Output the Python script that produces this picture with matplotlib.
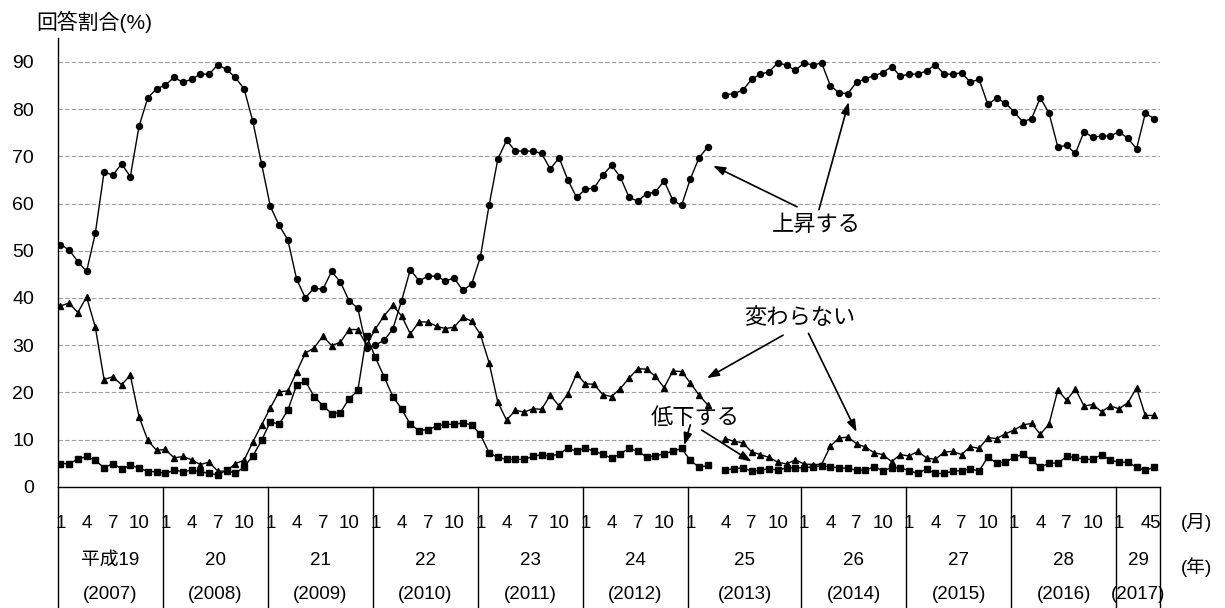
import numpy as np
import matplotlib
matplotlib.use("Agg")
import matplotlib.pyplot as plt
import matplotlib.transforms as mtransforms

plt.rcParams['font.family'] = ['Liberation Sans', 'Noto Sans CJK JP']

# 上昇する / 変わらない / 低下する  (%)
# old survey: 2007/1 - 2013/3, new survey: 2013/4 - 2017/5
up_old = [51.3, 50.2, 47.7, 45.6, 53.7, 66.7, 66.0, 68.4, 65.7, 76.4, 82.4, 84.3,
          85.1, 86.7, 85.7, 86.3, 87.4, 87.4, 89.4, 88.4, 86.7, 84.3, 77.4, 68.4,
          59.4, 55.4, 52.3, 44.0, 40.0, 42.1, 41.8, 45.6, 43.4, 39.4, 37.8, 29.4,
          30.0, 31.0, 33.4, 39.4, 46.0, 43.6, 44.6, 44.6, 43.6, 44.2, 41.6, 42.9,
          48.6, 59.6, 69.4, 73.4, 71.1, 71.1, 71.1, 70.6, 67.3, 69.7, 65.0, 61.3,
          63.0, 63.3, 66.0, 68.1, 65.6, 61.3, 60.5, 62.1, 62.4, 64.8, 60.7, 59.6,
          65.2, 69.7, 72.0]
up_new = [83.0, 83.3, 84.0, 86.3, 87.4, 87.9, 89.8, 89.3, 88.2,
          89.8, 89.3, 89.8, 85.0, 83.4, 83.3, 85.7, 86.4, 87.1, 87.7, 89.0, 87.0,
          87.4, 87.4, 88.1, 89.4, 87.4, 87.4, 87.7, 85.7, 86.3, 81.0, 82.3, 81.3,
          79.4, 77.3, 78.0, 82.4, 79.1, 72.0, 72.3, 70.6, 75.2, 74.0, 74.3, 74.3,
          75.2, 73.8, 71.6, 79.1, 78.0]

same_old = [38.3, 38.9, 36.9, 40.2, 33.8, 22.7, 23.3, 21.6, 23.6, 14.8, 9.8, 7.7,
            7.9, 6.1, 6.4, 5.7, 4.7, 5.2, 3.3, 3.3, 4.9, 5.6, 9.5, 13.1,
            16.7, 20.1, 20.3, 24.3, 28.3, 29.4, 31.9, 29.9, 30.6, 33.3, 33.3, 30.0,
            33.4, 36.2, 38.4, 36.2, 32.4, 34.9, 34.9, 34.0, 33.5, 33.8, 35.9, 35.1,
            32.3, 26.3, 17.9, 14.1, 16.2, 15.8, 16.5, 16.4, 19.4, 17.1, 19.7, 23.9,
            21.8, 21.7, 19.5, 19.1, 20.8, 23.0, 25.0, 24.9, 23.4, 21.0, 24.5, 24.4,
            22.0, 19.4, 17.3]
same_new = [10.2, 9.6, 9.3, 7.4, 6.8, 6.2, 5.2, 4.8, 5.7,
            4.8, 4.7, 4.7, 8.6, 10.3, 10.5, 9.1, 8.4, 7.2, 6.8, 5.3, 6.8,
            6.5, 7.5, 6.1, 5.8, 7.3, 7.5, 6.8, 8.5, 8.1, 10.4, 10.2, 11.2,
            12.0, 13.1, 13.4, 11.1, 13.3, 20.5, 18.3, 20.7, 17.1, 17.4, 15.9, 17.1,
            16.5, 17.8, 20.9, 15.1, 15.1]

down_old = [4.9, 4.9, 5.8, 6.4, 5.6, 4.0, 4.9, 3.8, 4.5, 4.0, 3.2, 3.2,
            2.8, 3.5, 3.2, 3.5, 3.2, 2.8, 2.5, 3.5, 2.8, 4.2, 6.5, 9.8,
            13.8, 13.2, 16.2, 21.5, 22.4, 19.1, 17.2, 15.5, 15.7, 18.6, 20.4, 32.0,
            27.4, 23.3, 19.1, 16.5, 13.2, 11.9, 12.1, 12.8, 13.2, 13.2, 13.5, 13.1,
            11.1, 7.2, 6.2, 5.8, 5.8, 5.8, 6.4, 6.8, 6.5, 6.9, 8.2, 7.5,
            8.2, 7.5, 6.9, 6.0, 7.0, 8.1, 7.5, 6.3, 6.5, 7.0, 7.5, 8.1,
            5.6, 4.1, 4.5]
down_new = [3.5, 3.8, 4.0, 3.3, 3.5, 3.8, 3.5, 4.0, 4.0,
            4.0, 4.2, 4.4, 4.2, 4.0, 3.9, 3.5, 3.5, 4.2, 3.4, 4.0, 4.0,
            3.4, 2.8, 3.8, 2.8, 2.8, 3.3, 3.4, 3.8, 3.3, 6.3, 5.0, 5.2,
            6.2, 6.9, 5.6, 4.1, 5.0, 5.0, 6.4, 6.2, 5.8, 5.8, 6.8, 5.6,
            5.2, 5.2, 4.1, 3.5, 4.1]

# x axis "table": one slot per month, 2013 has an extra empty slot between the surveys
years_jp = ['平成19', '20', '21', '22', '23', '24', '25', '26', '27', '28', '29']
years_ad = ['(2007)', '(2008)', '(2009)', '(2010)', '(2011)', '(2012)',
            '(2013)', '(2014)', '(2015)', '(2016)', '(2017)']
slots_per_year = [12, 12, 12, 12, 12, 12, 13, 12, 12, 12, 5]
month_labels = ['1', '4', '7', '10']
month_offsets = [0, 3, 6, 9]
month_offsets_2013 = [0, 4, 7, 10]
month_labels_2017 = ['1', '4', '5']
month_offsets_2017 = [0, 3, 4]

x_old = np.arange(len(up_old))
x_new = np.arange(len(up_old) + 1, len(up_old) + 1 + len(up_new))

fig = plt.figure(figsize=(12.25, 6.08), dpi=100)
ax = fig.add_axes([57.7 / 1225, 121.3 / 608, 1102.5 / 1225, 448.4 / 608])

line_kw = dict(color='black', linewidth=1.0)
for x, y in ((x_old, up_old), (x_new, up_new)):
    ax.plot(x, y, marker='o', markersize=4.3, **line_kw)
for x, y in ((x_old, same_old), (x_new, same_new)):
    ax.plot(x, y, marker='^', markersize=4.6, **line_kw)
for x, y in ((x_old, down_old), (x_new, down_new)):
    ax.plot(x, y, marker='s', markersize=4.3, **line_kw)

ax.set_xlim(-0.3, sum(slots_per_year) - 0.3)
ax.set_ylim(0, 95)
ax.set_yticks(range(0, 100, 10))
ax.set_xticks([])
ax.tick_params(axis='y', length=0, pad=17, labelsize=14)
ax.grid(axis='y', color='#a0a0a0', linestyle=(0, (4, 2)), linewidth=0.8)
ax.set_axisbelow(True)
for side in ('top', 'right'):
    ax.spines[side].set_visible(False)
for side in ('left', 'bottom'):
    ax.spines[side].set_linewidth(1.0)

# table under the x axis
trans = mtransforms.blended_transform_factory(ax.transData, ax.transAxes)
bottom = -121.3 / 448.4
y_month, y_year, y_ad = -0.081, -0.165, -0.24
start = 0
for i, n in enumerate(slots_per_year):
    ax.plot([start - 0.3, start - 0.3], [0, bottom], color='black', lw=1.0,
            transform=trans, clip_on=False)
    if n == 13:
        labels, offsets = month_labels, month_offsets_2013
    elif n == 5:
        labels, offsets = month_labels_2017, month_offsets_2017
    else:
        labels, offsets = month_labels, month_offsets
    for lab, off in zip(labels, offsets):
        ax.text(start + off, y_month, lab, transform=trans, ha='center', va='center', fontsize=13.5)
    mid = start - 0.3 + n / 2
    ax.text(mid, y_year, years_jp[i], transform=trans, ha='center', va='center', fontsize=13.5)
    ax.text(mid, y_ad, years_ad[i], transform=trans, ha='center', va='center', fontsize=13.5)
    start += n
ax.plot([start - 0.3, start - 0.3], [0, bottom], color='black', lw=1.0,
        transform=trans, clip_on=False)

fig.text(1197 / 1225, 1 - 522 / 608, '(月)', ha='center', va='center', fontsize=13.5)
fig.text(1197 / 1225, 1 - 567 / 608, '(年)', ha='center', va='center', fontsize=13.5)
fig.text(94 / 1225, 1 - 22 / 608, '回答割合(%)', ha='center', va='center', fontsize=15)

# labels with arrows
arrow_kw = dict(arrowstyle='-|>,head_length=0.45,head_width=0.16', color='black',
                lw=1.2, mutation_scale=16, shrinkA=0, shrinkB=0)
ax.text(86.4, 55.4, '上昇する', ha='center', va='center', fontsize=16)
ax.annotate('', xy=(74.6, 68.0), xytext=(84.2, 59.3), arrowprops=arrow_kw)
ax.annotate('', xy=(90.1, 81.5), xytext=(86.7, 58.7), arrowprops=arrow_kw)

ax.text(84.5, 35.7, '変わらない', ha='center', va='center', fontsize=16)
ax.annotate('', xy=(73.9, 23.0), xytext=(82.6, 32.1), arrowprops=arrow_kw)
ax.annotate('', xy=(91.0, 11.6), xytext=(85.5, 32.5), arrowprops=arrow_kw)

ax.text(72.5, 14.5, '低下する', ha='center', va='center', fontsize=16)
ax.annotate('', xy=(71.3, 8.8), xytext=(72.0, 13.1), arrowprops=arrow_kw)
ax.annotate('', xy=(79.0, 5.3), xytext=(73.3, 12.0), arrowprops=arrow_kw)

fig.savefig('out.png', dpi=100)
